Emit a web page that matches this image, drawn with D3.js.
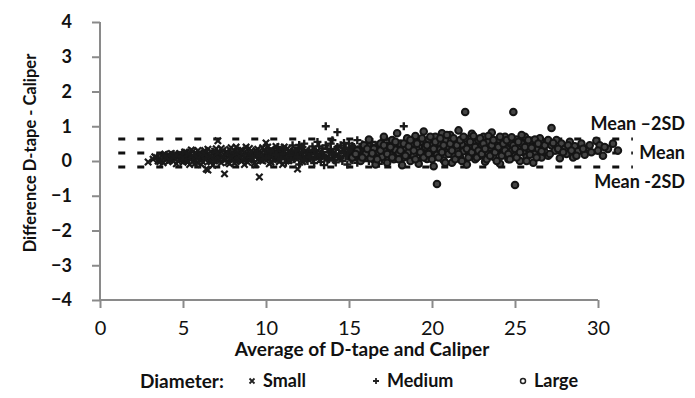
<!DOCTYPE html>
<html>
<head>
<meta charset="utf-8">
<script src="https://cdn.jsdelivr.net/npm/d3@7"></script>
<style>
  body { margin: 0; background: #fff; }
  svg { display: block; }
  text { font-family: Lato, "Open Sans", sans-serif; fill: #111; }
</style>
</head>
<body>
<div id="chart"></div>
<script>
// Bland-Altman: difference vs average, D-tape and caliper
const xTicks = [0, 5, 10, 15, 20, 25, 30];
const yTicks = [-4, -3, -2, -1, 0, 1, 2, 3, 4];
const xTickLabels = ['0', '5', '10', '15', '20', '25', '30'];

// limits of agreement (difference units) and their horizontal extent (average units)
const limitValues = [0.63, 0.23, -0.17];
const limitLabels = ['Mean \u20132SD', 'Mean', 'Mean -2SD'];
const limitExtent = [1.1, 32.1];

const legendLabels = ['Small', 'Medium', 'Large'];

// [average, difference]
const smallPts = [[2.9,-0.03],[3.2,0.05],[3.4,0.1],[3.5,0.0],[3.6,0.08],[3.7,0.15],[3.8,-0.05],[3.9,0.12],[4.0,0.04],[4.1,0.18],[4.1,-0.02],[4.2,0.09],[4.3,0.14],[4.4,0.0],[4.5,0.2],[4.5,0.07],[4.6,-0.08],[4.7,0.12],[4.8,0.03],[4.8,0.22],[4.9,0.1],[5.0,-0.04],[5.0,0.16],[5.1,0.06],[5.2,0.25],[5.2,0.0],[5.3,0.11],[5.4,0.19],[5.4,-0.1],[5.5,0.05],[5.6,0.14],[5.6,0.28],[5.7,0.02],[5.8,0.1],[5.8,0.2],[5.9,-0.06],[6.0,0.13],[6.0,0.24],[6.1,0.04],[6.2,0.17],[6.2,-0.03],[6.3,0.3],[6.4,-0.23],[6.4,0.09],[6.5,-0.26],[6.5,0.21],[6.6,0.0],[6.6,0.12],[6.7,0.27],[6.8,0.06],[6.8,-0.12],[6.9,0.18],[7.0,0.35],[7.0,0.03],[7.1,0.58],[7.1,0.14],[7.2,0.22],[7.3,-0.05],[7.3,0.1],[7.4,0.3],[7.5,-0.37],[7.5,0.17],[7.6,0.05],[7.6,0.25],[7.7,0.12],[7.8,-0.08],[7.8,0.33],[7.9,0.2],[8.0,0.07],[8.0,0.15],[8.1,0.28],[8.2,-0.02],[8.2,0.4],[8.3,0.1],[8.4,0.22],[8.5,0.0],[8.5,0.32],[8.6,0.14],[8.7,-0.1],[8.7,0.26],[8.8,0.08],[8.9,0.18],[9.0,0.36],[9.0,0.02],[9.1,0.12],[9.2,0.24],[9.3,-0.06],[9.3,0.16],[9.4,0.3],[9.5,0.05],[9.6,-0.46],[9.6,0.2],[9.7,0.1],[9.8,0.38],[9.8,0.0],[9.9,0.15],[10.0,0.52],[10.0,0.26],[10.1,0.07],[10.2,0.2],[10.3,-0.04],[10.3,0.33],[10.4,0.12],[10.5,0.24],[10.6,0.42],[10.7,0.04],[10.8,0.18],[10.9,0.3],[11.0,-0.1],[11.0,0.1],[11.2,0.22],[11.3,0.36],[11.4,0.02],[11.5,0.16],[11.7,0.28],[11.8,0.08],[11.9,-0.23],[12.0,0.2],[12.2,-0.02],[12.4,0.3],[12.6,0.12],
  [3.3,0.12],[3.6,-0.02],[3.9,0.2],[4.0,0.1],[4.2,0.02],[4.3,0.22],[4.4,0.11],[4.6,0.16],[4.7,0.0],[4.9,0.19],[5.0,0.08],[5.1,0.26],[5.3,-0.02],[5.3,0.2],[5.5,0.14],[5.5,0.32],[5.7,0.22],[5.7,-0.08],[5.9,0.08],[5.9,0.3],[6.1,0.16],[6.1,-0.1],[6.3,0.06],[6.3,0.2],[6.5,0.1],[6.5,0.34],[6.7,-0.02],[6.7,0.15],[6.9,0.28],[6.9,0.0],[7.1,0.24],[7.2,0.06],[7.3,0.36],[7.4,0.12],[7.5,0.02],[7.7,0.24],[7.7,-0.04],[7.9,0.1],[7.9,0.38],[8.1,0.18],[8.1,-0.06],[8.3,0.26],[8.3,0.02],[8.4,0.14],[8.6,0.3],[8.6,0.04],[8.8,0.2],[8.8,0.4],[8.9,-0.04],[9.0,0.16],[9.1,0.28],[9.2,0.06],[9.4,0.2],[9.4,-0.1],[9.5,0.34],[9.7,0.24],[9.7,0.02],[9.9,0.3],[9.9,0.08],[10.1,0.18],[10.1,0.4],[10.2,-0.08],[10.4,0.28],[10.5,0.06],[10.6,0.16],[10.7,0.34],[10.8,-0.02],[10.9,0.22],[11.1,0.12],[11.1,0.4],[11.2,0.0],[11.4,0.28],[11.6,0.06],[11.6,0.2],[11.8,0.34],[12.0,0.1],[12.1,0.26],[12.3,0.04],[12.5,0.22]];

const mediumPts = [[9.2,0.1],[9.5,0.22],[9.8,0.05],[10.0,0.3],[10.2,0.15],[10.4,0.0],[10.5,0.25],[10.7,0.4],[10.8,0.12],[11.0,0.2],[11.1,0.33],[11.2,-0.05],[11.3,0.1],[11.5,0.27],[11.6,0.45],[11.7,0.05],[11.8,0.18],[12.0,0.35],[12.0,-0.1],[12.0,0.46],[12.1,0.08],[12.2,0.25],[12.3,0.5],[12.4,0.14],[12.5,0.0],[12.6,0.3],[12.7,0.2],[12.8,0.42],[12.9,-0.06],[13.0,0.12],[13.0,0.28],[13.1,0.55],[13.2,0.06],[13.3,0.2],[13.4,0.36],[13.5,-0.12],[13.5,0.15],[13.6,1.0],[13.6,0.45],[13.7,0.02],[13.8,0.25],[13.9,0.32],[14.0,0.1],[14.0,0.6],[14.1,0.18],[14.2,-0.04],[14.3,0.83],[14.3,0.4],[14.4,0.22],[14.5,0.08],[14.6,0.3],[14.7,0.52],[14.8,0.14],[14.9,-0.1],[15.0,0.35],[15.0,0.2],[15.1,0.05],[15.2,0.44],[15.3,0.26],[15.4,0.12],[15.5,0.6],[15.5,-0.05],[15.6,0.32],[15.7,0.18],[15.8,0.48],[15.9,0.08],[16.0,0.25],[16.1,0.38],[16.2,0.0],[16.3,0.15],[16.4,0.55],[16.5,0.3],[16.6,0.1],[16.7,0.42],[16.8,-0.08],[16.9,0.22],[17.0,0.35],[17.1,0.6],[17.2,0.12],[17.3,0.28],[17.4,0.04],[17.5,0.45],[17.6,0.2],[17.8,0.5],[17.9,0.1],[18.0,0.32],[18.1,-0.02],[18.3,1.0],[18.3,0.24],[18.5,0.4],[18.7,0.15],[18.9,0.55],[19.1,0.3],[19.3,0.08],[19.6,0.36],[19.9,0.2],
  [9.6,0.15],[10.0,0.08],[10.3,0.28],[10.6,0.18],[10.9,0.05],[11.0,0.38],[11.4,0.16],[11.5,0.02],[11.8,0.3],[11.9,0.12],[12.2,0.4],[12.3,0.02],[12.5,0.22],[12.6,0.12],[12.8,0.05],[12.9,0.32],[13.1,0.18],[13.2,0.42],[13.3,-0.02],[13.4,0.26],[13.6,0.1],[13.7,0.35],[13.8,0.05],[13.9,0.5],[14.0,0.22],[14.1,0.02],[14.2,0.35],[14.4,0.12],[14.5,0.45],[14.6,0.0],[14.7,0.25],[14.8,0.38],[14.9,0.15],[15.0,0.5],[15.1,0.28],[15.2,0.02],[15.3,0.4],[15.4,0.2],[15.6,0.08],[15.7,0.42],[15.8,0.25],[15.9,0.35],[16.0,0.12],[16.1,0.5],[16.2,0.22],[16.3,0.4],[16.4,0.05],[16.5,0.18],[16.6,0.46],[16.7,0.3],[16.8,0.15],[16.9,0.5],[17.0,0.05],[17.1,0.25],[17.3,0.45],[17.4,0.18],[17.5,0.32],[17.7,0.08],[17.7,0.4],[17.9,0.25],[18.1,0.45],[18.2,0.12],[18.4,0.3],[18.6,0.05],[18.8,0.35],[19.0,0.2],[19.4,0.45],[19.7,0.1]];

const largePts = [[15.2,0.1],[15.5,0.3],[15.7,0.0],[15.9,0.45],[16.0,0.2],[16.2,0.62],[16.3,0.08],[16.5,0.35],[16.6,-0.1],[16.8,0.25],[16.9,0.5],[17.0,0.12],[17.1,0.7],[17.2,0.3],[17.3,-0.05],[17.4,0.42],[17.5,0.18],[17.6,0.6],[17.7,0.05],[17.8,0.32],[17.9,0.8],[18.0,0.22],[18.1,0.5],[18.2,-0.12],[18.3,0.1],[18.4,0.38],[18.5,0.65],[18.6,0.26],[18.7,0.0],[18.8,0.48],[18.9,0.15],[19.0,0.72],[19.1,0.34],[19.2,-0.08],[19.3,0.55],[19.4,0.2],[19.5,0.85],[19.6,0.4],[19.7,0.06],[19.8,0.62],[19.9,0.28],[20.0,0.45],[20.1,-0.15],[20.2,0.7],[20.3,-0.66],[20.3,0.18],[20.4,0.52],[20.5,0.33],[20.6,0.8],[20.7,0.02],[20.8,0.6],[20.9,0.25],[21.0,0.42],[21.1,0.75],[21.2,-0.05],[21.3,0.15],[21.4,0.55],[21.5,0.35],[21.6,0.88],[21.7,0.1],[21.8,0.48],[21.9,0.28],[22.0,1.41],[22.0,0.65],[22.1,-0.1],[22.2,0.4],[22.3,0.2],[22.4,0.78],[22.5,0.52],[22.6,0.05],[22.7,0.32],[22.8,0.6],[22.9,0.15],[23.0,0.45],[23.1,0.7],[23.2,-0.02],[23.3,0.25],[23.4,0.55],[23.5,0.38],[23.6,0.82],[23.7,0.12],[23.8,0.5],[23.9,0.3],[24.0,0.62],[24.1,-0.08],[24.2,0.42],[24.3,0.2],[24.4,0.7],[24.5,0.35],[24.6,0.05],[24.7,0.55],[24.8,0.28],[24.9,1.41],[24.9,0.45],[25.0,-0.69],[25.0,0.15],[25.1,0.62],[25.2,0.38],[25.3,0.0],[25.4,0.5],[25.5,0.25],[25.6,0.7],[25.7,0.12],[25.8,0.42],[25.9,0.32],[26.0,0.58],[26.1,-0.05],[26.2,0.2],[26.3,0.48],[26.4,0.35],[26.5,0.65],[26.6,0.1],[26.7,0.4],[26.8,0.25],[26.9,0.55],[27.0,0.15],[27.2,0.95],[27.2,0.45],[27.4,0.3],[27.5,0.6],[27.7,0.08],[27.8,0.5],[28.0,0.35],[28.1,0.2],[28.3,0.55],[28.5,0.1],[28.6,0.42],[28.8,0.28],[29.0,0.5],[29.2,0.18],[29.4,0.38],[29.6,0.25],[29.9,0.58],[30.1,0.45],[30.3,0.15],[30.6,0.35],[30.9,0.5],[31.2,0.3],
  [15.4,0.2],[15.8,0.1],[16.1,0.35],[16.4,0.22],[16.7,0.05],[16.9,0.3],[17.1,0.45],[17.3,0.2],[17.5,0.4],[17.6,0.1],[17.8,0.55],[18.0,0.05],[18.1,0.3],[18.3,0.5],[18.4,0.15],[18.6,0.42],[18.7,0.6],[18.9,0.3],[19.0,0.05],[19.1,0.5],[19.3,0.25],[19.4,0.65],[19.5,0.1],[19.7,0.45],[19.8,0.2],[19.9,0.7],[20.0,0.05],[20.1,0.35],[20.2,0.55],[20.4,0.1],[20.5,0.65],[20.6,0.25],[20.7,0.45],[20.8,-0.05],[20.9,0.75],[21.0,0.2],[21.1,0.5],[21.2,0.3],[21.3,0.65],[21.4,0.05],[21.5,0.45],[21.6,0.2],[21.7,0.6],[21.8,0.0],[21.9,0.7],[22.1,0.35],[22.2,0.1],[22.3,0.55],[22.4,0.25],[22.5,0.72],[22.6,0.4],[22.7,0.1],[22.8,0.3],[22.9,0.65],[23.0,0.2],[23.1,0.5],[23.2,0.35],[23.3,0.05],[23.4,0.72],[23.5,0.15],[23.6,0.45],[23.7,0.6],[23.8,0.25],[23.9,0.0],[24.0,0.4],[24.1,0.7],[24.2,0.15],[24.3,0.5],[24.4,0.3],[24.5,0.6],[24.6,0.2],[24.7,0.05],[24.8,0.68],[25.0,0.35],[25.1,0.1],[25.2,0.55],[25.3,0.25],[25.4,0.75],[25.6,0.4],[25.7,0.0],[25.8,0.6],[25.9,0.18],[26.0,0.38],[26.2,0.62],[26.3,0.1],[26.4,0.5],[26.6,0.28],[26.8,0.45],[27.0,0.6],[27.1,0.2],[27.3,0.52],[27.6,0.35],[27.9,0.25],[28.2,0.45],[28.4,0.3],[28.7,0.15],[29.1,0.35],[29.5,0.45],[30.0,0.3],[30.4,0.4]];

const width = 695, height = 398;
const margin = {top: 22, right: 97, bottom: 98, left: 100};
const innerW = width - margin.left - margin.right;
const innerH = height - margin.top - margin.bottom;

const svg = d3.select('#chart').append('svg')
  .attr('width', width)
  .attr('height', height);

const g = svg.append('g')
  .attr('transform', 'translate(' + margin.left + ',' + margin.top + ')');

const x = d3.scaleLinear().domain([0, 30]).range([0, innerW]);
const y = d3.scaleLinear().domain([-4, 4]).range([innerH, 0]);

// axes
const xAxis = g.append('g')
  .attr('transform', 'translate(0,' + innerH + ')')
  .call(d3.axisBottom(x).tickValues(xTicks).tickSize(8).tickPadding(14)
    .tickFormat((d, i) => xTickLabels[i]));
xAxis.selectAll('text')
  .attr('y', 21)
  .style('font-size', '20px');

const yAxis = g.append('g')
  .call(d3.axisLeft(y).tickValues(yTicks).tickSize(8).tickPadding(20).tickFormat(d3.format('d')));
yAxis.selectAll('text')
  .attr('x', -28)
  .style('font-size', '18px')
  .style('font-weight', 'bold');

g.selectAll('.domain, .tick line')
  .attr('stroke', '#8a8a8a')
  .attr('stroke-width', 2);
xAxis.select('.domain').attr('d', 'M0,0H' + innerW);
yAxis.select('.domain').attr('d', 'M0,' + innerH + 'V0');

// limit lines
g.selectAll('.limit')
  .data(limitValues)
  .enter().append('line')
  .attr('class', 'limit')
  .attr('x1', x(limitExtent[0]))
  .attr('x2', x(limitExtent[1]))
  .attr('y1', d => y(d))
  .attr('y2', d => y(d))
  .attr('stroke', '#111')
  .attr('stroke-width', 3)
  .attr('stroke-dasharray', '7,12');

// points
const pts = g.append('g');

pts.selectAll('.small')
  .data(smallPts)
  .enter().append('path')
  .attr('d', 'M-3.2,-3.2L3.2,3.2M-3.2,3.2L3.2,-3.2')
  .attr('transform', d => 'translate(' + x(d[0]) + ',' + y(d[1]) + ')')
  .attr('stroke', '#1a1a1a')
  .attr('stroke-width', 2.2)
  .attr('fill', 'none');

pts.selectAll('.medium')
  .data(mediumPts)
  .enter().append('path')
  .attr('d', 'M-4,0H4M0,-4V4')
  .attr('transform', d => 'translate(' + x(d[0]) + ',' + y(d[1]) + ')')
  .attr('stroke', '#1a1a1a')
  .attr('stroke-width', 2.4)
  .attr('fill', 'none');

pts.selectAll('.large')
  .data(largePts)
  .enter().append('circle')
  .attr('cx', d => x(d[0]))
  .attr('cy', d => y(d[1]))
  .attr('r', 3.3)
  .attr('stroke', '#151515')
  .attr('stroke-width', 2)
  .attr('fill', '#444');

// limit labels
const labelX = width - 10;
const labelY = [y(limitValues[0]) - 15, y(limitValues[1]), y(limitValues[2]) + 15];
svg.append('g')
  .attr('transform', 'translate(0,' + margin.top + ')')
  .selectAll('text')
  .data(limitLabels)
  .enter().append('text')
  .attr('x', labelX)
  .attr('y', (d, i) => labelY[i])
  .attr('dy', '0.35em')
  .attr('text-anchor', 'end')
  .style('font-size', '18px')
  .style('font-weight', 'bold')
  .text(d => d);

// axis titles
svg.append('text')
  .attr('x', 362)
  .attr('y', 356)
  .attr('text-anchor', 'middle')
  .style('font-size', '19px')
  .style('font-weight', 'bold')
  .text('Average of D-tape and Caliper');

svg.append('text')
  .attr('transform', 'translate(36,153) rotate(-90)')
  .attr('text-anchor', 'middle')
  .style('font-size', '16.5px')
  .style('font-weight', 'bold')
  .text('Difference D-tape - Caliper');

// legend
const legend = svg.append('g').attr('transform', 'translate(0,381)');
legend.append('text')
  .attr('x', 140).attr('y', 0).attr('dy', '0.35em')
  .style('font-size', '19px').style('font-weight', 'bold')
  .text('Diameter:');

const legendX = [252, 376, 523];
const legendShapes = ['M-2.5,-2.5L2.5,2.5M-2.5,2.5L2.5,-2.5', 'M-3,0H3M0,-3V3', null];
legendLabels.forEach((lab, i) => {
  if (legendShapes[i]) {
    legend.append('path')
      .attr('d', legendShapes[i])
      .attr('transform', 'translate(' + legendX[i] + ',0)')
      .attr('stroke', '#222').attr('stroke-width', 1.8).attr('fill', 'none');
  } else {
    legend.append('circle')
      .attr('cx', legendX[i]).attr('cy', 0).attr('r', 2.5)
      .attr('stroke', '#222').attr('stroke-width', 1.5).attr('fill', 'none');
  }
  legend.append('text')
    .attr('x', legendX[i] + 11).attr('y', 0).attr('dy', '0.35em')
    .style('font-size', '18px').style('font-weight', 'bold')
    .text(lab);
});
</script>
</body>
</html>
